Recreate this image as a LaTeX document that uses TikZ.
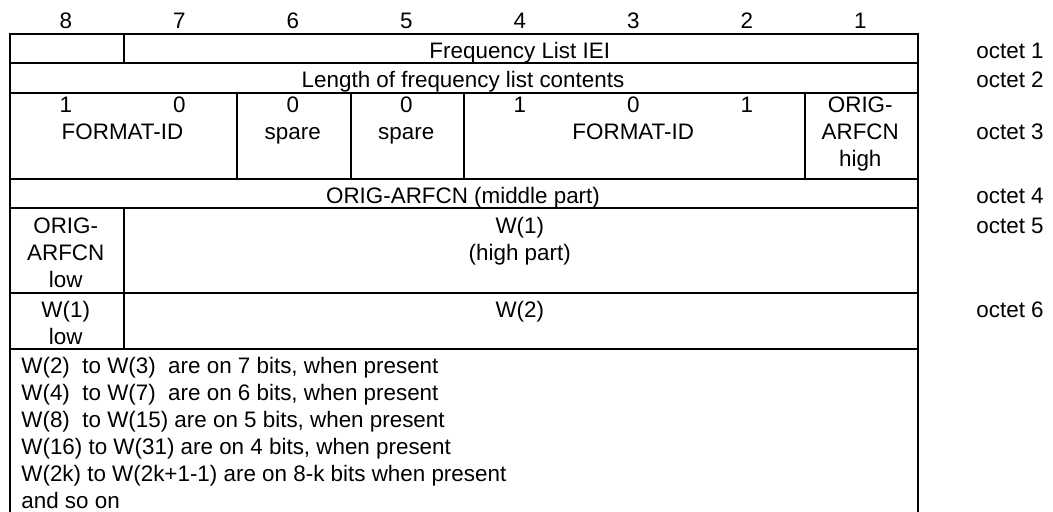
\documentclass[tikz,border=0pt]{standalone}
\usepackage{fontspec}
\setmainfont{Liberation Sans}
\usetikzlibrary{positioning}

\newcommand{\colw}{56.75pt}
\newcommand{\cellstack}[2][c]{\begin{tabular}[t]{@{}#1@{}}#2\end{tabular}}

\begin{document}
\begin{tikzpicture}[x=0.5pt,y=-0.5pt,
            field/.style 2 args={draw,rectangle,line width=1.1pt,anchor=north west,inner sep=0pt,minimum width=#1*\colw,minimum height=#2},
            txt/.style={anchor=base,inner sep=0pt,font=\fontsize{11.2}{13.5}\selectfont},
            bitno/.style={txt},
            oct/.style={txt,anchor=base west},
            note/.style={txt,anchor=base west}
          ]
          \useasboundingbox (0,0) rectangle (1053,511);

          %bit numbers
          \foreach \b [count=\i from 0] in {8,7,...,1}
            \node[bitno] (bit\b) at (65.75+113.5*\i,28) {\b};

          %fields
          \node[field={1}{14.5pt}] (iei8) at (9,33) {};
          \node[field={7}{14.5pt}] (iei) at (122.5,33) {};
          \node[field={8}{15pt}] (len) at (9,62) {};
          \node[field={2}{43pt}] (fmtA) at (9,92) {};
          \node[field={1}{43pt}] (spareA) at (236,92) {};
          \node[field={1}{43pt}] (spareB) at (349.5,92) {};
          \node[field={3}{43pt}] (fmtB) at (463,92) {};
          \node[field={1}{43pt}] (arfhigh) at (803.5,92) {};
          \node[field={8}{14.25pt}] (arfmid) at (9,178) {};
          \node[field={1}{42.5pt}] (arflow) at (9,206.5) {};
          \node[field={7}{42.5pt}] (w1high) at (122.5,206.5) {};
          \node[field={1}{28.25pt}] (w1low) at (9,291.5) {};
          \node[field={7}{28.25pt}] (w2) at (122.5,291.5) {};
          \node[field={8}{83pt}] (rules) at (9,348) {};

          %contents
          \node[txt] (ieitxt) at (519.75,58) {Frequency List IEI};
          \node[txt] (lentxt) at (463,87) {Length of frequency list contents};

          \node[txt] (fmtA8) at (65.75,112) {1};
          \node[txt] (fmtA7) at (179.25,112) {0};
          \node[txt] (fmtAtxt) at (122.5,139) {FORMAT-ID};
          \node[txt] (spareAtxt) at (292.75,112) {\cellstack{0\\spare}};
          \node[txt] (spareBtxt) at (406.25,112) {\cellstack{0\\spare}};
          \node[txt] (fmtB4) at (519.75,112) {1};
          \node[txt] (fmtB3) at (633.25,112) {0};
          \node[txt] (fmtB2) at (746.75,112) {1};
          \node[txt] (fmtBtxt) at (633.25,139) {FORMAT-ID};
          \node[txt] (arfhightxt) at (860.25,112) {\cellstack{ORIG-\\ARFCN\\high}};

          \node[txt] (arfmidtxt) at (463,203) {ORIG-ARFCN (middle part)};

          \node[txt] (arflowtxt) at (65.75,233) {\cellstack{ORIG-\\ARFCN\\low}};
          \node[txt] (w1hightxt) at (519.75,233) {\cellstack{W(1)\\(high part)}};

          \node[txt] (w1lowtxt) at (65.75,317) {\cellstack{W(1)\\low}};
          \node[txt] (w2txt) at (519.75,317) {W(2)};

          \node[note] (rulestxt) at (21,373) {\cellstack[l]{%
            W(2)\ \ to W(3)\ \ are on 7 bits, when present\\
            W(4)\ \ to W(7)\ \ are on 6 bits, when present\\
            W(8)\ \ to W(15) are on 5 bits, when present\\
            W(16) to W(31) are on 4 bits, when present\\
            W(2k) to W(2k+1-1) are on 8-k bits when present\\
            and so on}};

          %octet labels
          \foreach \n/\y in {1/58,2/87,3/139,4/203,5/233,6/317}
            \node[oct] (oct\n) at (976,\y) {octet \n};

      \end{tikzpicture}
\end{document}
